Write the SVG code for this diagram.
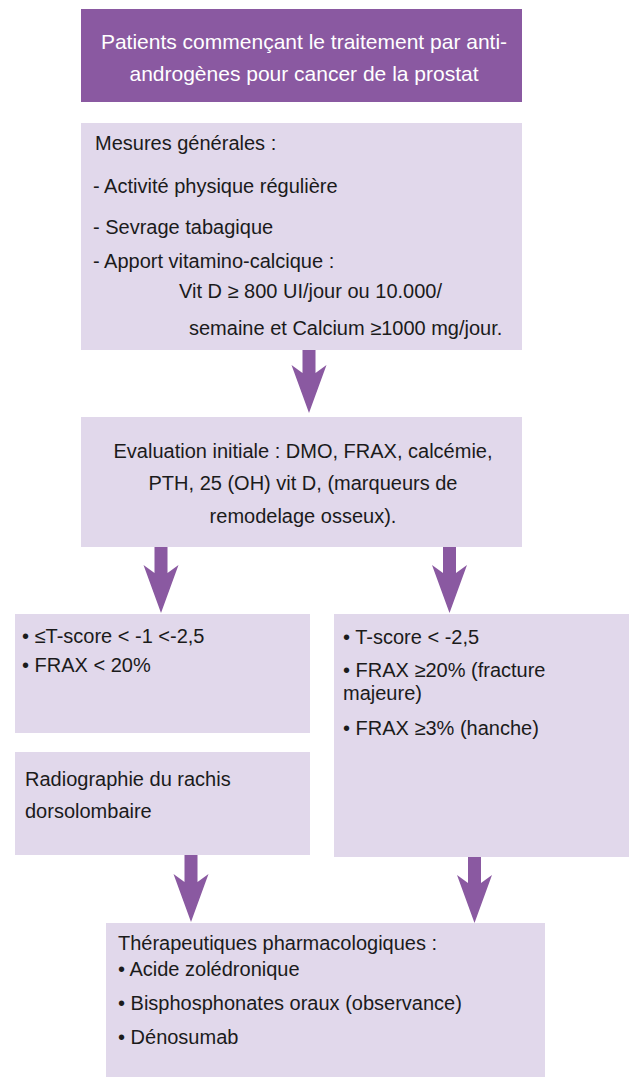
<svg xmlns="http://www.w3.org/2000/svg" width="630" height="1077" viewBox="0 0 630 1077">
  <style>
    .head { fill: #8a59a1; }
    .box { fill: #e1d8eb; }
    .arrow { fill: #8a59a1; }
    text { font-family: "Liberation Sans", Arial, sans-serif; font-size: 20px; fill: #1b1b1b; }
    .white { fill: #ffffff; font-size: 21px; }
    .mid { text-anchor: middle; }
  </style>
  <rect width="630" height="1077" fill="#ffffff"/>

  <!-- connectors: block arrows between the boxes -->
  <g id="connectors">
    <polygon class="arrow" points="302.5,350 315.5,350 315.5,373 326.5,365 309,413 291.5,365 302.5,373"/>
    <polygon class="arrow" points="154.5,547 167.5,547 167.5,573 178.5,565 161,613 143.5,565 154.5,573"/>
    <polygon class="arrow" points="443,547 456,547 456,573 467,565 449.5,613 432,565 443,573"/>
    <polygon class="arrow" points="184.5,855 197.5,855 197.5,882 208.5,874 191,922 173.5,874 184.5,882"/>
    <polygon class="arrow" points="468,857 481,857 481,883 492,875 474.5,923 457,875 468,883"/>
  </g>

  <g id="patients">
    <rect class="head" x="81" y="9" width="441" height="93"/>
    <text class="white mid" x="304" y="49">Patients commençant le traitement par anti-</text>
    <text class="white mid" x="304" y="81">androgènes pour cancer de la prostat</text>
  </g>

  <g id="mesures">
    <rect class="box" x="81" y="123" width="441" height="227"/>
    <text x="95" y="150">Mesures générales :</text>
    <text x="93" y="193">- Activité physique régulière</text>
    <text x="93" y="234">- Sevrage tabagique</text>
    <text x="93" y="268">- Apport vitamino-calcique :</text>
    <text x="179" y="298">Vit D ≥ 800 UI/jour ou 10.000/</text>
    <text x="189" y="335">semaine et Calcium ≥1000 mg/jour.</text>
  </g>

  <g id="evaluation">
    <rect class="box" x="81" y="417" width="441" height="130"/>
    <text class="mid" x="303" y="458">Evaluation initiale : DMO, FRAX, calcémie,</text>
    <text class="mid" x="303" y="490">PTH, 25 (OH) vit D, (marqueurs de</text>
    <text class="mid" x="303" y="523">remodelage osseux).</text>
  </g>

  <g id="risque-modere">
    <rect class="box" x="15" y="614" width="295" height="119"/>
    <text x="22" y="643">• ≤T-score &lt; -1 &lt;-2,5</text>
    <text x="22" y="672">• FRAX &lt; 20%</text>
  </g>

  <g id="risque-eleve">
    <rect class="box" x="334" y="614" width="295" height="243"/>
    <text x="343" y="644">• T-score &lt; -2,5</text>
    <text x="343" y="677">• FRAX ≥20% (fracture</text>
    <text x="343" y="700">majeure)</text>
    <text x="343" y="735">• FRAX ≥3% (hanche)</text>
  </g>

  <g id="radiographie">
    <rect class="box" x="15" y="752" width="295" height="103"/>
    <text x="25" y="786">Radiographie du rachis</text>
    <text x="25" y="818">dorsolombaire</text>
  </g>

  <g id="therapeutiques">
    <rect class="box" x="106" y="923" width="439" height="154"/>
    <text x="118" y="950">Thérapeutiques pharmacologiques :</text>
    <text x="118" y="976">• Acide zolédronique</text>
    <text x="118" y="1010">• Bisphosphonates oraux (observance)</text>
    <text x="118" y="1044">• Dénosumab</text>
  </g>
</svg>
